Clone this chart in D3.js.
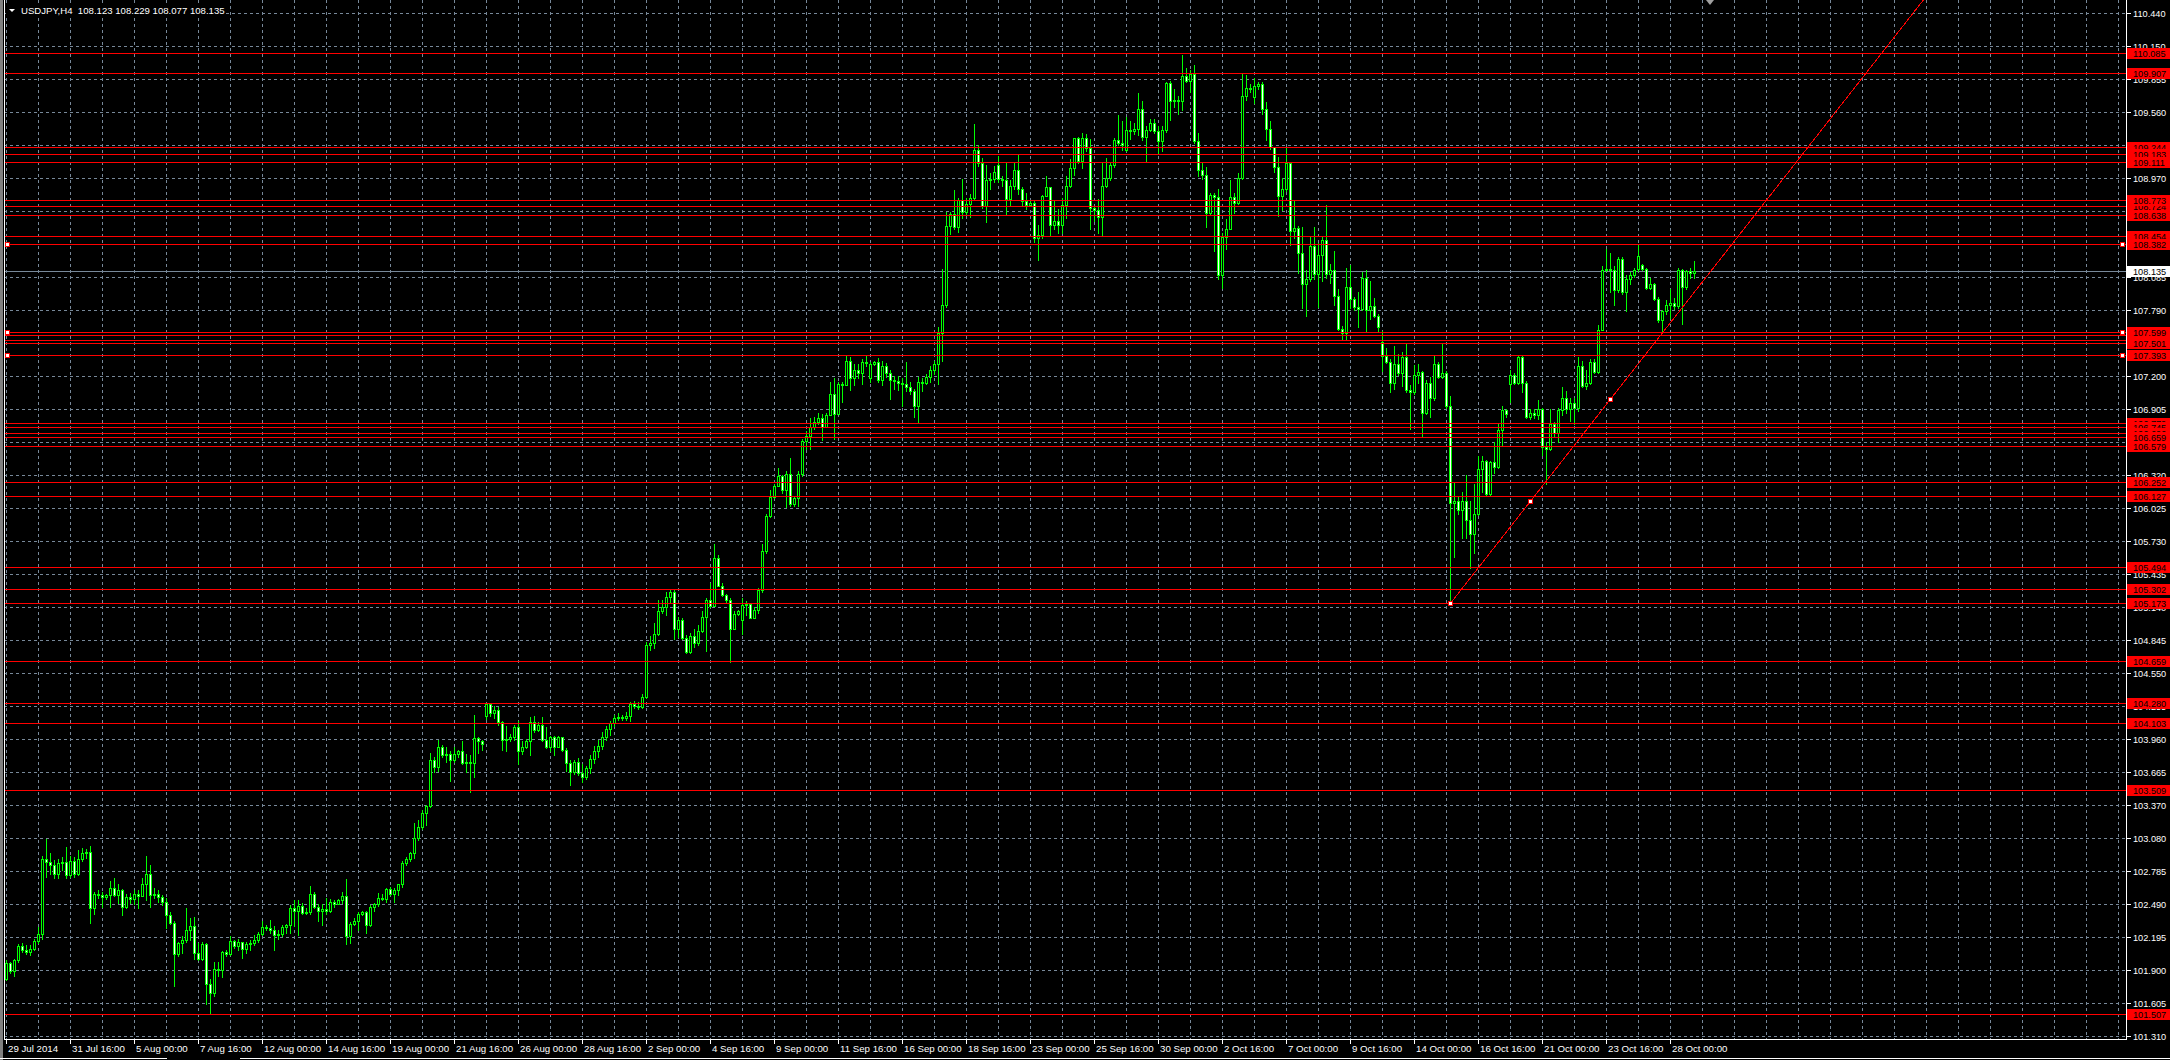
<!DOCTYPE html>
<html><head><meta charset="utf-8">
<script src="https://cdn.jsdelivr.net/npm/d3@7"></script>
<style>html,body{margin:0;padding:0;background:#000;overflow:hidden}svg{display:block}</style>
</head><body>
<svg id="chart" width="2170" height="1060"></svg>
<script>
// ---------------- DATA ----------------
const symbol = "USDJPY,H4";
const headerOHLC = ["108.123", "108.229", "108.077", "108.135"];

const opens = [
101.82,101.96,101.89,101.99,102.11,102.08,102.06,102.09,102.16,102.22,
102.89,102.86,102.84,102.76,102.85,102.86,102.75,102.87,102.76,102.89,
102.94,102.95,102.45,102.58,102.57,102.55,102.57,102.63,102.57,102.61,
102.46,102.55,102.53,102.58,102.56,102.67,102.76,102.57,102.58,102.55,
102.51,102.39,102.32,102.04,102.14,102.17,102.26,102.29,102.05,102.00,
102.13,101.77,101.69,101.91,101.90,102.06,102.04,102.16,102.11,102.15,
102.09,102.13,102.14,102.17,102.22,102.28,102.27,102.26,102.21,102.22,
102.28,102.30,102.45,102.43,102.47,102.41,102.42,102.58,102.46,102.43,
102.44,102.43,102.51,102.49,102.52,102.56,102.20,102.31,102.34,102.40,
102.42,102.30,102.46,102.49,102.54,102.53,102.62,102.58,102.61,102.67,
102.85,102.89,102.94,103.08,103.18,103.30,103.36,103.77,103.71,103.89,
103.82,103.83,103.77,103.83,103.85,103.75,103.76,103.75,103.97,103.94,
104.17,104.27,104.19,104.22,104.11,103.95,103.96,103.98,104.07,103.85,
103.89,103.94,104.11,104.04,104.09,103.95,103.89,103.98,103.89,103.98,
103.86,103.75,103.67,103.76,103.66,103.62,103.70,103.78,103.85,103.90,
103.98,104.05,104.10,104.15,104.16,104.15,104.17,104.27,104.26,104.25,
104.34,104.80,104.82,104.90,105.10,105.14,105.23,105.27,104.94,105.02,
104.86,104.74,104.88,104.82,104.93,105.05,105.20,105.15,105.58,105.33,
105.25,105.20,104.94,105.08,105.02,105.16,105.17,105.04,105.11,105.29,
105.64,105.95,106.12,106.22,106.31,106.18,106.33,106.06,106.11,106.33,
106.62,106.67,106.75,106.79,106.83,106.75,106.85,107.04,106.86,107.13,
107.12,107.34,107.18,107.26,107.23,107.33,107.18,107.31,107.33,107.17,
107.29,107.23,107.17,107.16,107.14,107.13,107.10,107.07,106.93,107.15,
107.14,107.19,107.26,107.31,107.59,107.84,108.54,108.65,108.53,108.77,
108.67,108.74,108.79,109.22,109.10,108.72,108.95,108.96,109.09,108.96,
108.95,108.78,108.90,109.04,108.87,108.76,108.73,108.75,108.43,108.46,
108.81,108.89,108.55,108.59,108.55,108.73,108.90,109.06,109.33,109.12,
109.33,109.24,108.70,108.68,108.62,108.90,108.97,109.09,109.31,109.28,
109.22,109.40,109.39,109.41,109.59,109.34,109.40,109.46,109.39,109.30,
109.40,109.82,109.66,109.67,109.66,109.88,109.84,109.90,109.30,109.04,
109.00,108.66,108.82,108.80,108.10,108.44,108.51,108.80,108.75,108.97,
109.70,109.77,109.69,109.79,109.81,109.59,109.41,109.25,109.07,108.81,
108.87,109.10,108.50,108.52,108.30,108.02,108.07,108.36,108.11,108.28,
108.42,108.11,108.15,107.92,107.62,107.59,108.00,107.89,107.82,107.80,
108.08,107.79,107.83,107.74,107.51,107.38,107.33,107.14,107.31,107.23,
107.37,107.08,107.06,107.21,107.24,106.87,107.14,107.01,107.31,107.19,
107.23,106.93,106.07,106.09,106.01,106.09,105.92,105.79,105.97,106.37,
106.44,106.15,106.43,106.39,106.72,106.90,107.13,107.21,107.14,107.37,
107.14,106.84,106.87,106.85,106.91,106.57,106.55,106.77,106.69,106.90,
107.01,106.91,106.96,106.92,107.29,107.11,107.14,107.33,107.24,107.61,
108.15,108.16,108.15,107.97,108.25,107.95,108.07,108.10,108.16,108.19,
108.16,107.99,108.02,107.89,107.70,107.78,107.84,107.85,107.83,108.15,
108.00,108.14,108.123];

const highs = [
101.99,101.97,102.00,102.13,102.14,102.12,102.12,102.18,102.28,102.92,
103.07,102.94,102.88,102.89,102.91,103.00,102.92,102.91,102.97,102.99,
102.98,103.01,102.60,102.61,102.60,102.58,102.69,102.72,102.67,102.62,
102.58,102.59,102.61,102.61,102.72,102.92,102.84,102.63,102.61,102.57,
102.54,102.42,102.34,102.15,102.20,102.45,102.36,102.37,102.14,102.15,
102.14,101.82,101.97,101.97,102.07,102.08,102.20,102.17,102.18,102.15,
102.15,102.17,102.21,102.24,102.34,102.30,102.35,102.29,102.26,102.30,
102.31,102.48,102.52,102.52,102.50,102.45,102.65,102.60,102.49,102.49,
102.54,102.53,102.52,102.53,102.60,102.71,102.33,102.36,102.42,102.43,
102.43,102.48,102.50,102.59,102.58,102.63,102.64,102.63,102.67,102.87,
102.91,102.95,103.21,103.24,103.33,103.37,103.84,103.80,103.95,103.91,
103.89,103.85,103.89,103.86,103.94,103.83,103.82,104.18,103.98,103.95,
104.28,104.28,104.26,104.25,104.12,104.08,104.01,104.09,104.12,103.94,
103.96,104.16,104.17,104.11,104.16,104.07,103.99,103.99,103.99,103.98,
103.88,103.77,103.77,103.79,103.74,103.72,103.82,103.90,103.95,104.02,
104.08,104.12,104.18,104.19,104.18,104.20,104.29,104.30,104.29,104.36,
104.83,104.88,105.00,105.20,105.20,105.27,105.30,105.29,105.05,105.04,
104.89,104.91,104.94,104.98,105.10,105.22,105.35,105.70,105.60,105.35,
105.26,105.22,105.10,105.11,105.22,105.19,105.18,105.14,105.31,105.70,
105.97,106.18,106.24,106.38,106.32,106.35,106.47,106.12,106.35,106.64,
106.71,106.83,106.84,106.87,106.86,106.87,107.15,107.18,107.15,107.15,
107.38,107.37,107.31,107.31,107.35,107.38,107.33,107.34,107.36,107.34,
107.32,107.26,107.20,107.20,107.18,107.33,107.15,107.09,107.19,107.18,
107.22,107.29,107.34,107.64,108.16,108.67,108.67,108.86,108.79,108.96,
108.79,108.83,109.45,109.26,109.15,109.09,109.01,109.08,109.17,108.99,
109.10,108.95,109.10,109.18,108.89,108.84,108.77,108.77,108.55,108.82,
108.99,108.89,108.77,108.69,108.79,108.99,109.14,109.33,109.34,109.37,
109.36,109.32,108.71,108.78,109.10,109.15,109.11,109.33,109.53,109.48,
109.51,109.48,109.46,109.73,109.66,109.43,109.50,109.50,109.43,109.43,
109.83,109.84,109.76,109.70,110.07,109.95,109.93,109.98,109.37,109.11,
109.07,108.84,108.84,108.87,108.48,108.60,108.95,108.84,109.01,109.90,
109.89,109.81,109.86,109.83,109.83,109.65,109.48,109.25,109.16,108.97,
109.24,109.11,108.77,108.54,108.53,108.15,108.45,108.53,108.39,108.44,
108.73,108.20,108.32,107.98,107.65,108.17,108.19,107.91,107.95,108.13,
108.15,108.05,107.90,107.76,107.60,107.45,107.35,107.47,107.40,107.42,
107.49,107.12,107.30,107.31,107.25,107.17,107.19,107.39,107.33,107.49,
107.25,107.02,106.26,106.12,106.17,106.32,106.09,106.24,106.49,106.49,
106.45,106.44,106.61,106.78,106.93,106.91,107.26,107.23,107.38,107.39,
107.16,106.91,106.91,106.99,106.92,106.61,106.91,106.79,106.92,107.10,
107.07,107.01,107.01,107.37,107.34,107.26,107.35,107.35,107.66,108.18,
108.34,108.30,108.18,108.26,108.26,108.10,108.13,108.17,108.37,108.20,
108.17,108.08,108.03,107.91,107.79,107.88,107.98,107.90,108.17,108.16,
108.15,108.17,108.229];

const lows = [
101.81,101.87,101.85,101.97,102.06,102.04,102.03,102.08,102.14,102.18,
102.73,102.76,102.72,102.72,102.79,102.72,102.73,102.73,102.75,102.87,
102.90,102.32,102.40,102.54,102.46,102.53,102.46,102.56,102.50,102.39,
102.45,102.50,102.49,102.45,102.56,102.52,102.46,102.54,102.51,102.48,
102.27,102.31,101.76,102.02,102.05,102.15,102.17,102.00,101.99,101.99,
101.60,101.51,101.67,101.85,101.84,102.02,102.03,102.10,102.08,102.01,
102.05,102.08,102.12,102.15,102.21,102.26,102.23,102.08,102.18,102.20,
102.23,102.23,102.29,102.21,102.40,102.40,102.40,102.45,102.34,102.30,
102.40,102.42,102.46,102.49,102.50,102.13,102.14,102.30,102.26,102.39,
102.23,102.29,102.43,102.47,102.52,102.51,102.57,102.51,102.57,102.64,
102.84,102.87,102.90,103.06,103.16,103.19,103.35,103.67,103.68,103.80,
103.76,103.59,103.76,103.80,103.74,103.67,103.49,103.62,103.84,103.86,
104.14,104.17,104.15,104.09,103.86,103.85,103.94,103.95,103.74,103.83,
103.88,103.82,104.02,104.03,103.94,103.88,103.85,103.82,103.89,103.85,
103.68,103.55,103.65,103.64,103.58,103.60,103.66,103.75,103.80,103.87,
103.95,104.00,104.08,104.13,104.13,104.13,104.12,104.24,104.23,104.24,
104.33,104.76,104.77,104.89,105.09,105.07,105.18,104.85,104.87,104.85,
104.73,104.73,104.78,104.80,104.92,104.75,105.14,105.15,105.33,105.24,
105.18,104.65,104.94,105.07,104.90,105.07,105.04,105.04,105.09,105.27,
105.62,105.94,106.11,106.22,106.16,106.03,106.04,106.04,106.04,106.31,
106.55,106.55,106.73,106.77,106.63,106.75,106.85,106.64,106.86,106.97,
107.12,107.08,107.12,107.18,107.13,107.29,107.15,107.30,107.15,107.12,
107.19,107.00,107.09,107.08,106.93,107.07,107.04,106.84,106.79,107.07,
107.13,107.15,107.22,107.13,107.34,107.82,108.47,108.51,108.49,108.61,
108.64,108.62,108.77,109.08,108.70,108.58,108.87,108.93,108.93,108.90,
108.65,108.73,108.87,108.83,108.73,108.69,108.72,108.40,108.24,108.43,
108.81,108.45,108.51,108.48,108.48,108.61,108.89,109.00,109.10,109.06,
109.21,108.51,108.59,108.48,108.46,108.89,108.95,109.07,109.26,109.22,
109.21,109.32,109.36,109.35,109.31,109.12,109.39,109.37,109.18,109.21,
109.38,109.49,109.60,109.54,109.58,109.83,109.74,109.28,108.99,108.96,
108.53,108.65,108.32,108.07,107.99,108.34,108.51,108.66,108.74,108.96,
109.67,109.74,109.64,109.76,109.54,109.31,109.23,109.02,108.63,108.68,
108.85,108.37,108.43,108.12,107.81,107.74,108.05,108.07,107.82,108.05,
108.08,108.03,107.84,107.61,107.52,107.52,107.81,107.79,107.64,107.79,
107.60,107.71,107.73,107.60,107.25,107.32,107.06,107.09,107.21,107.11,
107.06,106.73,107.04,107.14,106.67,106.86,106.84,106.99,107.18,107.18,
106.92,105.18,105.59,105.97,105.76,105.76,105.49,105.62,105.96,106.17,
106.14,106.13,106.34,106.38,106.58,106.84,106.97,107.13,107.13,107.06,
106.83,106.82,106.83,106.82,106.50,106.24,106.54,106.67,106.61,106.85,
106.87,106.80,106.77,106.89,107.10,107.09,107.13,107.23,107.23,107.61,
108.14,107.95,107.84,107.95,107.93,107.78,108.02,108.09,108.14,108.15,
107.98,107.98,107.88,107.68,107.60,107.76,107.72,107.80,107.81,107.67,
107.98,108.08,108.077];

const closes = [
101.96,101.89,101.99,102.11,102.08,102.06,102.09,102.16,102.22,102.89,
102.86,102.84,102.76,102.85,102.86,102.75,102.87,102.76,102.89,102.94,
102.95,102.45,102.58,102.57,102.55,102.57,102.63,102.57,102.61,102.46,
102.55,102.53,102.58,102.56,102.67,102.76,102.57,102.58,102.55,102.51,
102.39,102.32,102.04,102.14,102.17,102.26,102.29,102.05,102.00,102.13,
101.77,101.69,101.91,101.90,102.06,102.04,102.16,102.11,102.15,102.09,
102.13,102.14,102.17,102.22,102.28,102.27,102.26,102.21,102.22,102.28,
102.30,102.45,102.43,102.47,102.41,102.42,102.58,102.46,102.43,102.44,
102.43,102.51,102.49,102.52,102.56,102.20,102.31,102.34,102.40,102.42,
102.30,102.46,102.49,102.54,102.53,102.62,102.58,102.61,102.67,102.85,
102.89,102.94,103.08,103.18,103.30,103.36,103.77,103.71,103.89,103.82,
103.83,103.77,103.83,103.85,103.75,103.76,103.75,103.97,103.94,103.92,
104.27,104.19,104.22,104.11,103.95,103.96,103.98,104.07,103.85,103.89,
103.94,104.11,104.04,104.09,103.95,103.89,103.98,103.89,103.98,103.86,
103.75,103.67,103.76,103.66,103.62,103.70,103.78,103.85,103.90,103.98,
104.05,104.10,104.15,104.16,104.15,104.17,104.27,104.26,104.25,104.34,
104.80,104.82,104.90,105.10,105.14,105.23,105.27,104.94,105.02,104.86,
104.74,104.88,104.82,104.93,105.05,105.20,105.15,105.58,105.33,105.25,
105.20,104.94,105.08,105.10,105.16,105.17,105.04,105.11,105.29,105.64,
105.95,106.12,106.22,106.31,106.18,106.33,106.06,106.11,106.33,106.62,
106.67,106.75,106.79,106.83,106.75,106.85,107.04,106.86,107.13,107.12,
107.34,107.18,107.26,107.23,107.33,107.32,107.31,107.33,107.17,107.29,
107.23,107.17,107.16,107.14,107.13,107.10,107.07,106.93,107.15,107.14,
107.19,107.26,107.31,107.59,107.84,108.54,108.65,108.53,108.77,108.67,
108.74,108.79,109.22,109.10,108.72,108.95,108.96,109.02,108.96,108.95,
108.78,108.90,109.04,108.87,108.76,108.73,108.75,108.43,108.46,108.81,
108.89,108.55,108.59,108.55,108.73,108.90,109.06,109.33,109.12,109.33,
109.24,108.70,108.68,108.62,108.90,108.97,109.09,109.31,109.28,109.26,
109.40,109.39,109.41,109.59,109.34,109.40,109.46,109.39,109.30,109.40,
109.82,109.66,109.67,109.66,109.88,109.84,109.90,109.30,109.04,109.00,
108.66,108.82,108.80,108.10,108.44,108.51,108.80,108.75,108.97,109.70,
109.77,109.76,109.79,109.81,109.59,109.41,109.25,109.07,108.81,108.87,
109.10,108.50,108.52,108.30,108.02,108.07,108.36,108.11,108.28,108.42,
108.11,108.15,107.92,107.62,107.59,108.00,107.89,107.82,107.80,108.08,
107.79,107.83,107.74,107.64,107.38,107.33,107.14,107.31,107.23,107.37,
107.08,107.06,107.21,107.24,106.87,107.14,107.01,107.31,107.19,107.23,
106.93,106.07,106.09,106.01,106.09,105.92,105.79,105.97,106.37,106.44,
106.15,106.43,106.39,106.72,106.90,106.86,107.21,107.14,107.37,107.14,
106.84,106.87,106.85,106.91,106.57,106.55,106.77,106.69,106.90,107.01,
106.91,106.96,106.92,107.29,107.11,107.14,107.33,107.24,107.61,108.15,
108.16,108.15,107.97,108.25,107.95,108.07,108.10,108.15,108.27,108.16,
107.99,108.02,107.89,107.70,107.78,107.84,107.85,107.83,108.15,108.00,
108.14,108.12,108.135];

// time-axis labels, one every 16 bars
const timeLabels = ["29 Jul 2014","31 Jul 16:00","5 Aug 00:00","7 Aug 16:00","12 Aug 00:00","14 Aug 16:00",
"19 Aug 00:00","21 Aug 16:00","26 Aug 00:00","28 Aug 16:00","2 Sep 00:00","4 Sep 16:00","9 Sep 00:00",
"11 Sep 16:00","16 Sep 00:00","18 Sep 16:00","23 Sep 00:00","25 Sep 16:00","30 Sep 00:00","2 Oct 16:00",
"7 Oct 00:00","9 Oct 16:00","14 Oct 00:00","16 Oct 16:00","21 Oct 00:00","23 Oct 16:00","28 Oct 00:00"];
const barsPerLabel = 16;

// price-axis tick labels
const priceTicks = ["101.310","101.605","101.900","102.195","102.490","102.785","103.080","103.370","103.665",
"103.960","104.255","104.550","104.845","105.140","105.435","105.730","106.025","106.320","106.615","106.905",
"107.200","107.495","107.790","108.085","108.380","108.675","108.970","109.265","109.560","109.855","110.150","110.440"];

// horizontal support / resistance lines (in drawing order)
const levels = ["110.085","109.907","109.244","109.183","109.111","108.724","108.773","108.638","108.454","108.382",
"107.570","107.520","107.599","107.501","107.393","106.779","106.745","106.696","106.659","106.579",
"106.252","106.127","105.494","105.302","105.173","104.659","104.280","104.103","103.509","101.507"];
const selectedLevels = ["108.382","107.599","107.393"];

const bidPrice = "108.135";
const trendBars = [361, 401];
const trendPrices = [105.173, 106.994];

// ---------------- DRAW ----------------
const svg = d3.select("#chart");
const W = 2170, H = 1060;
const plot = {left: 4, right: 2126, top: 0, bottom: 1039};
const green = "#00ff00", red = "#ff0000", gridCol = "#778899";
const FONT = "'Liberation Sans', Arial, sans-serif";

const tickVals = priceTicks.map(Number);
const y = d3.scaleLinear().domain([tickVals[0], tickVals[tickVals.length - 1]]).range([1036, 13.3]);
const x = d3.scaleLinear().domain([0, 1]).range([6, 10]);
const ry = p => Math.round(y(p));

svg.append("rect").attr("width", W).attr("height", H).attr("fill", "#000");

svg.append("clipPath").attr("id", "plotclip").append("rect")
  .attr("x", plot.left + 1).attr("y", plot.top).attr("width", plot.right - plot.left - 1).attr("height", plot.bottom - plot.top);
const P = svg.append("g").attr("clip-path", "url(#plotclip)").attr("shape-rendering", "crispEdges");

// grid
const nGrid = Math.floor((plot.right - 6) / 32);
P.append("g").selectAll("line").data(d3.range(0, nGrid + 1).map(k => k * 8)).join("line")
  .attr("x1", d => Math.round(x(d)) + 0.5).attr("x2", d => Math.round(x(d)) + 0.5)
  .attr("y1", plot.top).attr("y2", plot.bottom)
  .attr("stroke", gridCol).attr("stroke-dasharray", "3,3");
P.append("g").selectAll("line").data(tickVals).join("line")
  .attr("x1", plot.left).attr("x2", plot.right)
  .attr("y1", d => ry(d) + 0.5).attr("y2", d => ry(d) + 0.5)
  .attr("stroke", gridCol).attr("stroke-dasharray", "3,3");

// bid line
P.append("line").attr("x1", plot.left).attr("x2", plot.right)
  .attr("y1", ry(+bidPrice) + 0.5).attr("y2", ry(+bidPrice) + 0.5).attr("stroke", gridCol);

// candles
const bars = closes.map((c, i) => ({i, o: opens[i], h: highs[i], l: lows[i], c}));
const cg = P.append("g").selectAll("g").data(bars).join("g");
cg.append("line")
  .attr("x1", d => Math.round(x(d.i)) + 0.5).attr("x2", d => Math.round(x(d.i)) + 0.5)
  .attr("y1", d => ry(d.h)).attr("y2", d => ry(d.l) + 1).attr("stroke", green);
cg.each(function(d) {
  const g = d3.select(this);
  const cx = Math.round(x(d.i));
  const t = Math.min(ry(d.o), ry(d.c)), b = Math.max(ry(d.o), ry(d.c));
  if (b - t < 1) {
    g.append("line").attr("x1", cx - 1).attr("x2", cx + 2).attr("y1", t + 0.5).attr("y2", t + 0.5).attr("stroke", green);
  } else {
    g.append("rect").attr("x", cx - 0.5).attr("y", t + 0.5).attr("width", 2).attr("height", b - t)
      .attr("fill", d.c < d.o ? "#ffffff" : "#000000").attr("stroke", green);
  }
});

// horizontal levels
P.append("g").selectAll("line").data(levels.map(Number)).join("line")
  .attr("x1", plot.left).attr("x2", plot.right)
  .attr("y1", d => ry(d) + 0.5).attr("y2", d => ry(d) + 0.5).attr("stroke", red);

// trend line (ray)
const tx1 = x(trendBars[0]), ty1 = y(trendPrices[0]), tx2 = x(trendBars[1]), ty2 = y(trendPrices[1]);
const slope = (ty2 - ty1) / (tx2 - tx1);
const tg = svg.append("g").attr("clip-path", "url(#plotclip)");
tg.append("line").attr("x1", tx1 + 0.5).attr("y1", ty1).attr("x2", plot.right).attr("y2", ty1 + slope * (plot.right - tx1))
  .attr("stroke", red).attr("stroke-width", 1).attr("shape-rendering", "crispEdges");
const tm = (trendBars[0] + trendBars[1]) / 2, tp = (trendPrices[0] + trendPrices[1]) / 2;
tg.selectAll("rect.mk").data([[trendBars[0], trendPrices[0]], [tm, tp], [trendBars[1], trendPrices[1]]]).join("rect")
  .attr("x", d => Math.round(x(d[0])) - 1.5).attr("y", d => ry(d[1]) - 1.5).attr("width", 4).attr("height", 4)
  .attr("fill", "#fff").attr("stroke", red).attr("shape-rendering", "crispEdges");
// selected level markers
tg.selectAll("rect.sel").data(selectedLevels.map(Number).flatMap(p => [[7, p], [2122, p]])).join("rect")
  .attr("x", d => d[0] - 1.5).attr("y", d => ry(d[1]) - 1.5).attr("width", 4).attr("height", 4)
  .attr("fill", "#fff").attr("stroke", red).attr("shape-rendering", "crispEdges");

// frame
const F = svg.append("g").attr("shape-rendering", "crispEdges");
F.append("rect").attr("x", 0).attr("y", 0).attr("width", 3).attr("height", H).attr("fill", "#808080");
F.append("line").attr("x1", 4.5).attr("x2", 4.5).attr("y1", 0).attr("y2", plot.bottom).attr("stroke", "#fff");
F.append("line").attr("x1", plot.right + 0.5).attr("x2", plot.right + 0.5).attr("y1", 0).attr("y2", plot.bottom + 1).attr("stroke", "#fff");
F.append("line").attr("x1", 4).attr("x2", plot.right + 1).attr("y1", plot.bottom + 0.5).attr("y2", plot.bottom + 0.5).attr("stroke", "#fff");
F.append("line").attr("x1", 0).attr("x2", 167).attr("y1", 1058.5).attr("y2", 1058.5).attr("stroke", "#fff");
F.append("line").attr("x1", 240).attr("x2", W).attr("y1", 1058.5).attr("y2", 1058.5).attr("stroke", "#fff");

// chart shift marker
svg.append("path").attr("d", `M${x(bars.length) + 8},0 L${x(bars.length) + 16},0 L${x(bars.length) + 12},5 Z`).attr("fill", "#a0a0a0");

// price axis
const A = svg.append("g").attr("font-family", FONT).attr("font-size", 9.2);
A.selectAll("line.t").data(tickVals).join("line")
  .attr("x1", plot.right + 1).attr("x2", plot.right + 5).attr("y1", d => ry(d) + 0.5).attr("y2", d => ry(d) + 0.5)
  .attr("stroke", "#fff").attr("shape-rendering", "crispEdges");
A.selectAll("text.t").data(priceTicks).join("text")
  .attr("x", plot.right + 7).attr("y", d => ry(+d) + 3.5).attr("fill", "#fff").text(d => d);
const LG = A.selectAll("g.lv").data(levels).join("g");
LG.append("rect").attr("x", plot.right + 1).attr("y", d => ry(+d) - 5).attr("width", W - plot.right - 1).attr("height", 11).attr("fill", red);
LG.append("text").attr("x", plot.right + 7).attr("y", d => ry(+d) + 3.5).attr("fill", "#000").text(d => d);
A.append("rect").attr("x", plot.right + 1).attr("y", ry(+bidPrice) - 5).attr("width", W - plot.right - 1).attr("height", 11).attr("fill", "#fff");
A.append("text").attr("x", plot.right + 7).attr("y", ry(+bidPrice) + 3.5).attr("fill", "#000").text(bidPrice);

// time axis
const T = svg.append("g").attr("font-family", FONT).attr("font-size", 9.7);
T.selectAll("line").data(timeLabels).join("line")
  .attr("x1", (d, k) => Math.round(x(k * barsPerLabel)) + 0.5).attr("x2", (d, k) => Math.round(x(k * barsPerLabel)) + 0.5)
  .attr("y1", plot.bottom + 1).attr("y2", plot.bottom + 5).attr("stroke", "#fff").attr("shape-rendering", "crispEdges");
T.selectAll("text").data(timeLabels).join("text")
  .attr("x", (d, k) => Math.round(x(k * barsPerLabel)) + 2).attr("y", 1052).attr("fill", "#fff").text(d => d);

// header
const Hd = svg.append("g").attr("font-family", FONT).attr("font-size", 9.6);
Hd.append("rect").attr("x", 6).attr("y", 4).attr("width", 218).attr("height", 12).attr("fill", "#000");
Hd.append("path").attr("d", "M9,9 L15,9 L12,12 Z").attr("fill", "#fff");
Hd.append("text").attr("x", 21).attr("y", 14).attr("fill", "#fff").attr("xml:space", "preserve")
  .text(symbol + "  " + headerOHLC.join(" "));
</script>
</body></html>
